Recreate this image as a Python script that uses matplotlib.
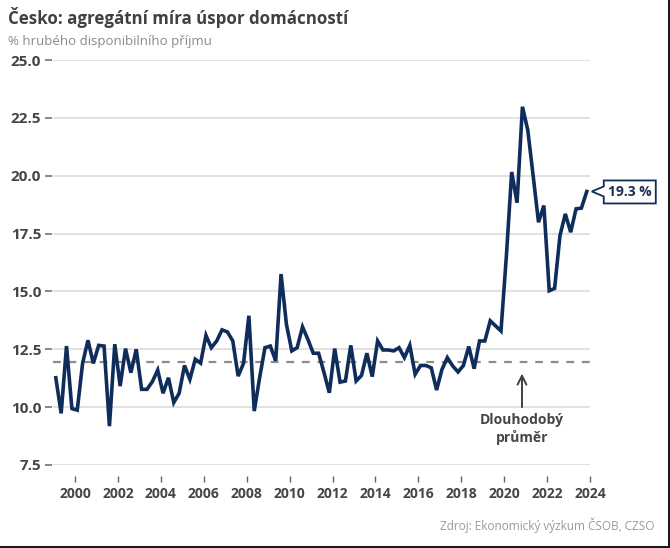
import matplotlib
matplotlib.use("Agg")
import matplotlib.pyplot as plt
from matplotlib.patches import Polygon
from matplotlib.transforms import IdentityTransform
import numpy as np

plt.rcParams['font.family'] = ['Open Sans', 'DejaVu Sans']

# ---- data (quarterly, 1999Q1 - 2023Q4) ----
start_year = 1999
savings_rate = [
    11.27, 9.73, 12.64, 9.94,     # 1999
    9.87, 11.9, 12.89, 11.89,     # 2000
    12.67, 12.64, 9.18, 12.72,    # 2001
    10.91, 12.53, 11.49, 12.5,    # 2002
    10.77, 10.77, 11.1, 11.6,     # 2003
    10.6, 11.27, 10.2, 10.6,      # 2004
    11.8, 11.2, 12.07, 11.9,      # 2005
    13.1, 12.57, 12.86, 13.34,    # 2006
    13.25, 12.86, 11.34, 11.89,   # 2007
    13.95, 9.83, 11.27, 12.57,    # 2008
    12.64, 12.0, 15.75, 13.58,    # 2009
    12.43, 12.57, 13.47, 12.93,   # 2010
    12.33, 12.33, 11.5, 10.62,    # 2011
    12.53, 11.08, 11.13, 12.67,   # 2012
    11.13, 11.37, 12.33, 11.32,   # 2013
    12.86, 12.47, 12.47, 12.43,   # 2014
    12.57, 12.14, 12.67, 11.42,   # 2015
    11.8, 11.8, 11.7, 10.74,      # 2016
    11.63, 12.14, 11.78, 11.52,   # 2017
    11.8, 12.62, 11.66, 12.86,    # 2018
    12.86, 13.73, 13.51, 13.29,   # 2019
    16.5, 20.16, 18.83, 22.98,    # 2020
    21.97, 20.0, 17.99, 18.71,    # 2021
    15.03, 15.13, 17.41, 18.35,   # 2022
    17.56, 18.57, 18.6, 19.32,    # 2023
]
long_term_avg = 11.95
last_label = "19.3 %"
avg_label = "Dlouhodobý\nprůměr"
avg_label_year = 2020.83
x_ticks = list(range(2000, 2025, 2))
y_ticks = [7.5, 10.0, 12.5, 15.0, 17.5, 20.0, 22.5, 25.0]

title = "Česko: agregátní míra úspor domácností"
subtitle = "% hrubého disponibilního příjmu"
source = "Zdroj: Ekonomický výzkum ČSOB, CZSO"

x = start_year + np.arange(len(savings_rate)) * 0.25 + 0.1

# ---- figure ----
W, H = 670, 548
fig = plt.figure(figsize=(W / 100, H / 100), dpi=100)
fig.patch.set_facecolor('white')
ax = fig.add_axes([53 / W, 1 - 465 / H, (590 - 53) / W, (465 - 60) / H])

navy = '#0f2d5a'
label_col = '#454545'

ax.set_ylim(7.5, 25.0)
ax.set_xlim(1998.97, 2024.0)

ax.set_yticks(y_ticks)
ax.set_yticklabels([f"{v:.1f}" for v in y_ticks])
ax.set_xticks(x_ticks)
ax.set_xticklabels([str(v) for v in x_ticks])

for s in ['top', 'right', 'left']:
    ax.spines[s].set_visible(False)
ax.spines['left'].set_position(('outward', 1))
ax.spines['bottom'].set_position(('outward', 8))
ax.spines['bottom'].set_visible(False)

ax.grid(axis='y', color='#d9d9d9', linewidth=1.1)
ax.set_axisbelow(True)
ax.tick_params(axis='y', length=5, width=1.1, color='#666666', pad=2.5,
               labelsize=11, labelcolor=label_col)
ax.tick_params(axis='x', length=4, width=1.0, color='#666666', pad=4,
               labelsize=10, labelcolor=label_col)
for lab in ax.get_xticklabels() + ax.get_yticklabels():
    lab.set_fontweight('bold')

ax.axhline(long_term_avg, color='#8c8c8c', linewidth=1.6,
           linestyle=(0, (3.5, 3.5)), zorder=2)

ax.plot(x, savings_rate, color=navy, linewidth=2.6, solid_joinstyle='miter',
        zorder=3)

# long-term average annotation
ax.annotate('', xy=(avg_label_year, long_term_avg - 0.5),
            xytext=(avg_label_year, 10.0),
            arrowprops=dict(arrowstyle='->', lw=1.4, color='#404040',
                            mutation_scale=16, shrinkA=0, shrinkB=0))
ax.text(avg_label_year, 9.75, avg_label, ha='center', va='top',
        fontsize=10, fontweight='bold', color=label_col, linespacing=1.25)

# callout for last value
fig.canvas.draw()
px, py = ax.transData.transform((x[-1], savings_rate[-1]))
tip = (px + 5, py)
bx0, bx1 = px + 17, px + 69
by0, by1 = py - 12, py + 11
poly = Polygon([(bx0, by1), (bx1, by1), (bx1, by0), (bx0, by0),
                (bx0, py - 5), tip, (bx0, py + 5)], closed=True,
               facecolor='white', edgecolor=navy, linewidth=1.3,
               transform=IdentityTransform(), clip_on=False)
fig.patches.append(poly)
fig.text((bx0 + bx1) / 2 / W, (py - 0.5) / H, last_label, ha='center',
         va='center', fontsize=10, fontweight='bold', color='#1b2f52')

# titles
fig.text(8 / W, 1 - 18 / H, title, ha='left', va='center', fontsize=12.2,
         fontweight='bold', color='#404040')
fig.text(8 / W, 1 - 42 / H, subtitle, ha='left', va='center', fontsize=9.5,
         color='#8a8a8a')
fig.text(655 / W, 1 - 525 / H, source, ha='right', va='center', fontsize=8.5,
         color='#9a9a9a')

# frame on right and bottom
fig.add_artist(plt.Line2D([668.5 / W, 668.5 / W], [0, 1], color='#1a1a1a',
                          linewidth=2.2, transform=fig.transFigure))
fig.add_artist(plt.Line2D([0, 1], [1.5 / H, 1.5 / H], color='#1a1a1a',
                          linewidth=2.2, transform=fig.transFigure))

fig.savefig('out.png', dpi=100)
